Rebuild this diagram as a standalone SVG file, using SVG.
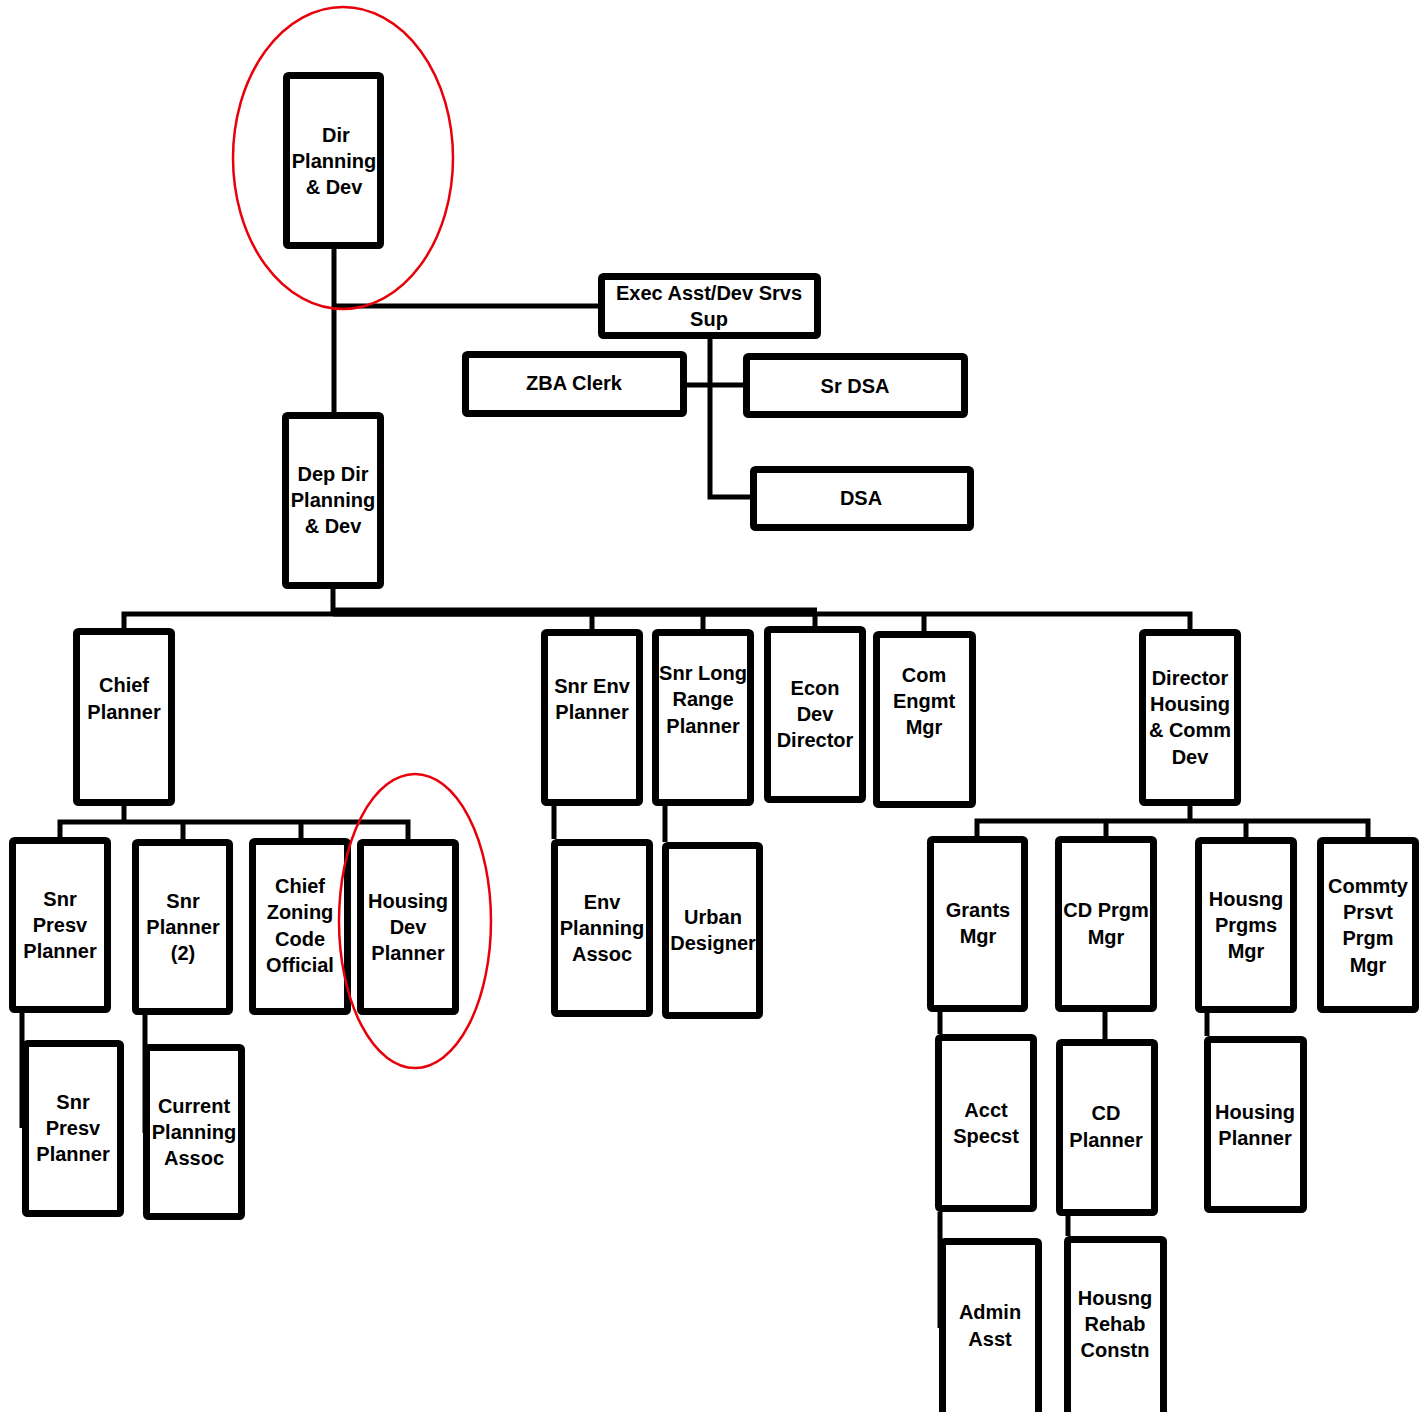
<svg xmlns="http://www.w3.org/2000/svg" width="1428" height="1412" viewBox="0 0 1428 1412">
<style>
.b{fill:#fff;stroke:#000;stroke-width:7}
.t{font-family:"Liberation Sans",Arial,sans-serif;font-weight:bold;font-size:20px;text-anchor:middle;fill:#000}
.c{fill:none;stroke:#000;stroke-width:5}
.r{fill:none;stroke:#e8000b;stroke-width:2.5}
</style>
<rect width="1428" height="1412" fill="#fff"/>
<g id="connectors">
<path class="c" d="M334 249V412"/>
<path class="c" d="M334 306H598"/>
<path class="c" d="M710 339V497H750"/>
<path class="c" d="M687 385H743"/>
<path class="c" d="M124 628V614H1190V629"/>
<path class="c" d="M333 589V614"/>
<path d="M333 612H817" stroke="#000" stroke-width="9" fill="none"/>
<path class="c" d="M592 614V629M703 614V629M815 614V626M924 614V631"/>
<path class="c" d="M124 806V822"/>
<path class="c" d="M60 837V822H408V839M183 822V839M301 822V838"/>
<path class="c" d="M22 1013V1128"/>
<path class="c" d="M145 1015V1133"/>
<path class="c" d="M554 806V839M665 806V842"/>
<path class="c" d="M1190 806V821"/>
<path class="c" d="M977 836V821H1368V837M1106 821V836M1246 821V837"/>
<path class="c" d="M940 1012V1034M940 1212V1328"/>
<path class="c" d="M1105 1012V1039"/>
<path class="c" d="M1068 1216V1236"/>
<path class="c" d="M1207 1013V1036"/>
</g>
<g id="dir"><rect class="b" x="286.5" y="75.5" width="94" height="170" rx="2"/><text class="t"><tspan x="336" y="141.5">Dir</tspan><tspan x="334" y="167.5">Planning</tspan><tspan x="334" y="193.5">&amp; Dev</tspan></text></g>
<g id="dep"><rect class="b" x="285.5" y="415.5" width="95" height="170" rx="2"/><text class="t"><tspan x="333" y="481">Dep Dir</tspan><tspan x="333" y="507">Planning</tspan><tspan x="333" y="533">&amp; Dev</tspan></text></g>
<g id="exec"><rect class="b" x="601.5" y="276.5" width="216" height="59" rx="2"/><text class="t"><tspan x="709" y="300">Exec Asst/Dev Srvs</tspan><tspan x="709" y="326">Sup</tspan></text></g>
<g id="zba"><rect class="b" x="465.5" y="354.5" width="218" height="59" rx="2"/><text class="t" x="574" y="390">ZBA Clerk</text></g>
<g id="srdsa"><rect class="b" x="746.5" y="356.5" width="218" height="58" rx="2"/><text class="t" x="855" y="393">Sr DSA</text></g>
<g id="dsa"><rect class="b" x="753.5" y="469.5" width="217" height="58" rx="2"/><text class="t" x="861" y="505">DSA</text></g>
<g id="chief"><rect class="b" x="76.5" y="631.5" width="95" height="171" rx="2"/><text class="t"><tspan x="124" y="692">Chief</tspan><tspan x="124" y="719">Planner</tspan></text></g>
<g id="snrenv"><rect class="b" x="544.5" y="632.5" width="95" height="170" rx="2"/><text class="t"><tspan x="592" y="693">Snr Env</tspan><tspan x="592" y="719">Planner</tspan></text></g>
<g id="snrlong"><rect class="b" x="655.5" y="632.5" width="95" height="170" rx="2"/><text class="t"><tspan x="703" y="680">Snr Long</tspan><tspan x="703" y="706">Range</tspan><tspan x="703" y="733">Planner</tspan></text></g>
<g id="econ"><rect class="b" x="767.5" y="629.5" width="95" height="170" rx="2"/><text class="t"><tspan x="815" y="695">Econ</tspan><tspan x="815" y="721">Dev</tspan><tspan x="815" y="747">Director</tspan></text></g>
<g id="com"><rect class="b" x="876.5" y="634.5" width="96" height="170" rx="2"/><text class="t"><tspan x="924" y="682">Com</tspan><tspan x="924" y="708">Engmt</tspan><tspan x="924" y="734">Mgr</tspan></text></g>
<g id="dirhousing"><rect class="b" x="1142.5" y="632.5" width="95" height="170" rx="2"/><text class="t"><tspan x="1190" y="685">Director</tspan><tspan x="1190" y="711">Housing</tspan><tspan x="1190" y="737">&amp; Comm</tspan><tspan x="1190" y="764">Dev</tspan></text></g>
<g id="snrpresv1"><rect class="b" x="12.5" y="840.5" width="95" height="169" rx="2"/><text class="t"><tspan x="60" y="906">Snr</tspan><tspan x="60" y="932">Presv</tspan><tspan x="60" y="958">Planner</tspan></text></g>
<g id="snrplanner2"><rect class="b" x="135.5" y="842.5" width="94" height="169" rx="2"/><text class="t"><tspan x="183" y="908">Snr</tspan><tspan x="183" y="934">Planner</tspan><tspan x="183" y="960">(2)</tspan></text></g>
<g id="chiefzoning"><rect class="b" x="252.5" y="841.5" width="95" height="170" rx="2"/><text class="t"><tspan x="300" y="893">Chief</tspan><tspan x="300" y="919">Zoning</tspan><tspan x="300" y="946">Code</tspan><tspan x="300" y="972">Official</tspan></text></g>
<g id="housingdev"><rect class="b" x="360.5" y="842.5" width="95" height="169" rx="2"/><text class="t"><tspan x="408" y="908">Housing</tspan><tspan x="408" y="934">Dev</tspan><tspan x="408" y="960">Planner</tspan></text></g>
<g id="snrpresv2"><rect class="b" x="25.5" y="1043.5" width="95" height="170" rx="2"/><text class="t"><tspan x="73" y="1109">Snr</tspan><tspan x="73" y="1135">Presv</tspan><tspan x="73" y="1161">Planner</tspan></text></g>
<g id="currentplanning"><rect class="b" x="146.5" y="1047.5" width="95" height="169" rx="2"/><text class="t"><tspan x="194" y="1113">Current</tspan><tspan x="194" y="1139">Planning</tspan><tspan x="194" y="1165">Assoc</tspan></text></g>
<g id="envplanning"><rect class="b" x="554.5" y="842.5" width="95" height="171" rx="2"/><text class="t"><tspan x="602" y="909">Env</tspan><tspan x="602" y="935">Planning</tspan><tspan x="602" y="961">Assoc</tspan></text></g>
<g id="urban"><rect class="b" x="665.5" y="845.5" width="94" height="170" rx="2"/><text class="t"><tspan x="713" y="924">Urban</tspan><tspan x="713" y="950">Designer</tspan></text></g>
<g id="grants"><rect class="b" x="930.5" y="839.5" width="94" height="169" rx="2"/><text class="t"><tspan x="978" y="917">Grants</tspan><tspan x="978" y="943">Mgr</tspan></text></g>
<g id="cdprgm"><rect class="b" x="1058.5" y="839.5" width="95" height="169" rx="2"/><text class="t"><tspan x="1106" y="917">CD Prgm</tspan><tspan x="1106" y="944">Mgr</tspan></text></g>
<g id="housngprgms"><rect class="b" x="1198.5" y="840.5" width="95" height="169" rx="2"/><text class="t"><tspan x="1246" y="906">Housng</tspan><tspan x="1246" y="932">Prgms</tspan><tspan x="1246" y="958">Mgr</tspan></text></g>
<g id="commty"><rect class="b" x="1320.5" y="840.5" width="95" height="169" rx="2"/><text class="t"><tspan x="1368" y="893">Commty</tspan><tspan x="1368" y="919">Prsvt</tspan><tspan x="1368" y="945">Prgm</tspan><tspan x="1368" y="972">Mgr</tspan></text></g>
<g id="acct"><rect class="b" x="938.5" y="1037.5" width="95" height="171" rx="2"/><text class="t"><tspan x="986" y="1117">Acct</tspan><tspan x="986" y="1143">Specst</tspan></text></g>
<g id="cdplanner"><rect class="b" x="1059.5" y="1042.5" width="95" height="170" rx="2"/><text class="t"><tspan x="1106" y="1120">CD</tspan><tspan x="1106" y="1147">Planner</tspan></text></g>
<g id="housingplanner"><rect class="b" x="1207.5" y="1039.5" width="96" height="170" rx="2"/><text class="t"><tspan x="1255" y="1119">Housing</tspan><tspan x="1255" y="1145">Planner</tspan></text></g>
<g id="admin"><rect class="b" x="942.5" y="1241.5" width="96" height="180" rx="2"/><text class="t"><tspan x="990" y="1319">Admin</tspan><tspan x="990" y="1346">Asst</tspan></text></g>
<g id="housngrehab"><rect class="b" x="1067.5" y="1239.5" width="96" height="182" rx="2"/><text class="t"><tspan x="1115" y="1305">Housng</tspan><tspan x="1115" y="1331">Rehab</tspan><tspan x="1115" y="1357">Constn</tspan></text></g>
<g id="highlights">
<ellipse class="r" cx="343" cy="158" rx="110" ry="151"/>
<ellipse class="r" cx="415" cy="921" rx="76" ry="147"/>
</g>
</svg>
